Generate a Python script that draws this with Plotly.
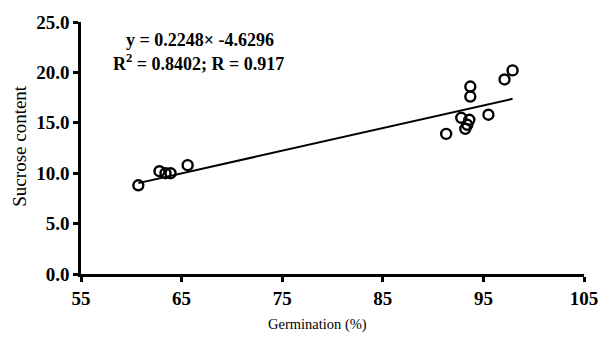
import plotly.graph_objects as go

germination = [60.7, 62.8, 63.4, 63.9, 65.6, 91.3, 92.8, 93.2, 93.4, 93.6, 93.7, 93.7, 95.5, 97.1, 97.9]
sucrose = [8.8, 10.2, 10.0, 10.0, 10.8, 13.9, 15.5, 14.4, 14.8, 15.3, 17.6, 18.6, 15.8, 19.3, 20.2]
slope = 0.2248
intercept = -4.6296
x_ticks = [55, 65, 75, 85, 95, 105]
y_ticks = [0, 5, 10, 15, 20, 25]
y_tick_labels = ["0.0", "5.0", "10.0", "15.0", "20.0", "25.0"]
x_title = "Germination (%)"
y_title = "Sucrose content"

fit_x = [min(germination), max(germination)]
fit_y = [slope * v + intercept for v in fit_x]

FONT = "Liberation Serif"
L, R, T, B = 81, 21, 12, 69
W, H = 610, 343

fig = go.Figure()
fig.add_trace(go.Scatter(x=fit_x, y=fit_y, mode="lines",
                         line=dict(color="black", width=2), showlegend=False))
fig.add_trace(go.Scatter(x=germination, y=sucrose, mode="markers",
                         marker=dict(symbol="circle-open", size=10, color="black",
                                     line=dict(width=2.4, color="black")),
                         showlegend=False))

pw = W - L - R
ph = H - T - B


def px2paper(px, py):
    return (px - L) / pw, 1 - (py - T) / ph


ax1, ay1 = px2paper(201, 31)
ax2, ay2 = px2paper(200, 54)
xt_x, xt_y = px2paper(320, 327)
yt_x, yt_y = px2paper(18, 141)

fig.update_layout(
    width=W, height=H,
    margin=dict(l=L, r=R, t=T, b=B),
    paper_bgcolor="white", plot_bgcolor="white",
    font=dict(family=FONT, color="black"),
    xaxis=dict(range=[55, 105], tickvals=x_ticks, ticktext=[f"<b>{v}</b>" for v in x_ticks],
               showgrid=False, zeroline=False, showline=True, linecolor="black", linewidth=2.5,
               ticks="outside", ticklen=5, tickwidth=2.5, tickcolor="black",
               tickfont=dict(size=19, family=FONT)),
    yaxis=dict(range=[0, 25], tickvals=y_ticks, ticktext=[f"<b>{t}</b>" for t in y_tick_labels],
               showgrid=False, zeroline=False, showline=True, linecolor="black", linewidth=2.5,
               ticks="outside", ticklen=5, tickwidth=2.5, tickcolor="black",
               tickfont=dict(size=19, family=FONT)),
    annotations=[
        dict(text=f"<b>y = {slope}× {intercept}</b>", x=ax1, y=ay1, xref="paper", yref="paper",
             xanchor="center", yanchor="middle", showarrow=False, font=dict(size=18, family=FONT)),
        dict(text="<b>R<sup>2</sup> = 0.8402; R = 0.917</b>", x=ax2, y=ay2, xref="paper", yref="paper",
             xanchor="center", yanchor="middle", showarrow=False, font=dict(size=18, family=FONT)),
        dict(text=x_title, x=xt_x, y=xt_y, xref="paper", yref="paper",
             xanchor="center", yanchor="middle", showarrow=False, font=dict(size=14.5, family=FONT)),
        dict(text=y_title, x=yt_x, y=yt_y, xref="paper", yref="paper", textangle=-90,
             xanchor="center", yanchor="middle", showarrow=False, font=dict(size=19, family=FONT)),
    ],
)

fig.write_html("out.html", config={"displayModeBar": False},
               post_script="document.body.style.margin='0';document.body.style.overflow='hidden';")
